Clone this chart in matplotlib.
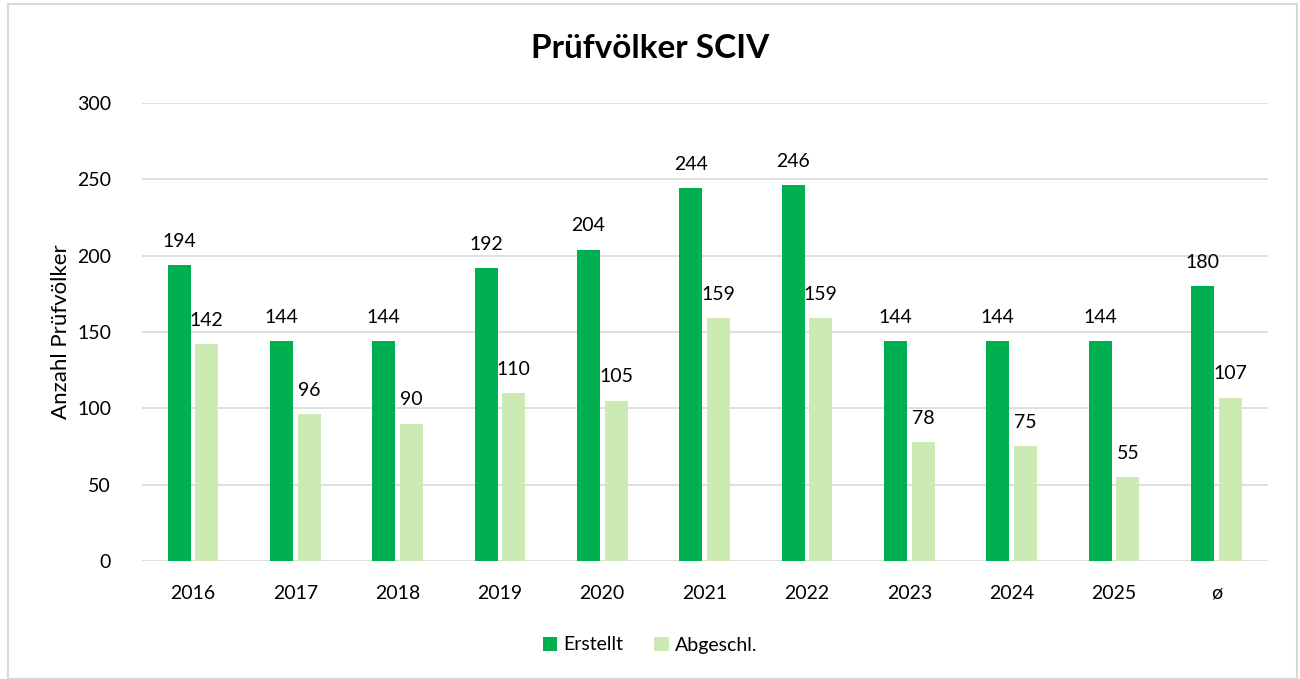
import matplotlib.pyplot as plt
from matplotlib.patches import Rectangle
import numpy as np

categories = ['2016', '2017', '2018', '2019', '2020', '2021', '2022', '2023', '2024', '2025', 'ø']
erstellt = [194, 144, 144, 192, 204, 244, 246, 144, 144, 144, 180]
abgeschl = [142, 96, 90, 110, 105, 159, 159, 78, 75, 55, 107]

plt.rcParams['font.family'] = ['Lato', 'DejaVu Sans']

fig = plt.figure(figsize=(13, 6.79), dpi=100)
ax = fig.add_axes([0.109, 0.1738, 0.866, 0.6745])

# light grey frame around the chart
fig.patches.append(Rectangle((8 / 1300, 0.0), 1289 / 1300, 675 / 679, transform=fig.transFigure,
                             fill=False, edgecolor='#D9D9D9', linewidth=1.5))

x = np.arange(len(categories))
w = 0.225
off = 0.135
b1 = ax.bar(x - off, erstellt, w, color='#00B050', label='Erstellt', zorder=3)
b2 = ax.bar(x + off, abgeschl, w, color='#CDE9B4', label='Abgeschl.', zorder=3)

for bars in (b1, b2):
    for rect in bars:
        h = rect.get_height()
        ax.annotate(f'{h:.0f}', (rect.get_x() + rect.get_width() / 2, h),
                    xytext=(0, 11), textcoords='offset points',
                    ha='center', va='bottom', fontsize=14, color='#000000')

ax.set_xlim(-0.5, len(categories) - 0.5)
ax.set_ylim(0, 300)
ax.set_yticks(range(0, 301, 50))
ax.set_xticks(x)
ax.set_xticklabels(categories)
ax.tick_params(axis='both', length=0, labelsize=14, colors='#000000')
ax.tick_params(axis='y', pad=22)
ax.tick_params(axis='x', pad=17)
ax.grid(axis='y', color='#D9D9D9', linewidth=1.2, zorder=0)
for s in ax.spines.values():
    s.set_visible(False)

ax.set_ylabel('Anzahl Prüfvölker', fontsize=16, labelpad=4)
fig.text(0.5, 1 - 48 / 679, 'Prüfvölker SCIV', fontsize=24, fontweight='bold',
         ha='center', va='center')

fig.legend(handles=[b1, b2], loc='center', bbox_to_anchor=(0.5, 1 - 645 / 679), ncol=2,
           frameon=False, fontsize=14, handlelength=0.75, handleheight=0.75,
           handletextpad=0.3, columnspacing=1.6)

fig.savefig('out.png', dpi=100, facecolor='white')
